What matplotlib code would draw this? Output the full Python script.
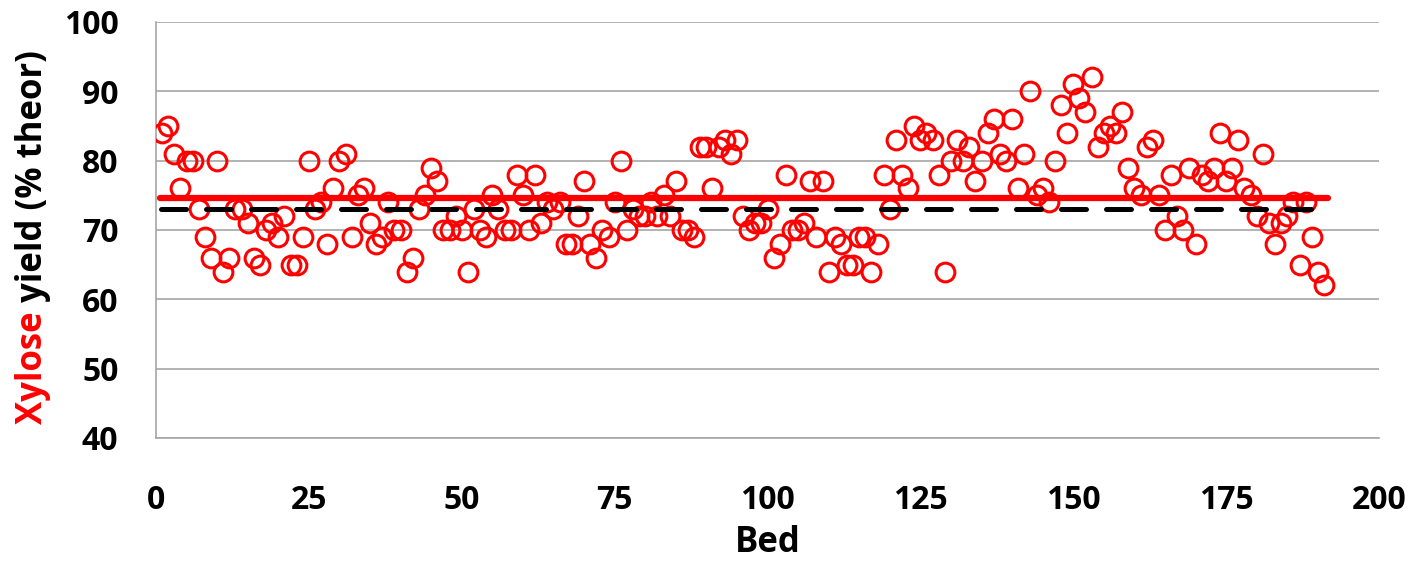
import numpy as np
import matplotlib.pyplot as plt

plt.rcParams['font.family'] = ['Open Sans', 'DejaVu Sans']
plt.rcParams['font.weight'] = 'bold'

# xylose yield per bed
beds = np.arange(1, 192)
yields = [
    84, 85, 81, 76, 80, 80, 73, 69, 66, 80, 64, 66, 73, 73, 71, 66, 65, 70, 71, 69,
    72, 65, 65, 69, 80, 73, 74, 68, 76, 80, 81, 69, 75, 76, 71, 68, 69, 74, 70, 70,
    64, 66, 73, 75, 79, 77, 70, 70, 72, 70, 64, 73, 70, 69, 75, 73, 70, 70, 78, 75,
    70, 78, 71, 74, 73, 74, 68, 68, 72, 77, 68, 66, 70, 69, 74, 80, 70, 73, 72, 72,
    74, 72, 75, 72, 77, 70, 70, 69, 82, 82, 76, 82, 83, 81, 83, 72, 70, 71, 71, 73,
    66, 68, 78, 70, 70, 71, 77, 69, 77, 64, 69, 68, 65, 65, 69, 69, 64, 68, 78, 73,
    83, 78, 76, 85, 83, 84, 83, 78, 64, 80, 83, 80, 82, 77, 80, 84, 86, 81, 80, 86,
    76, 81, 90, 75, 76, 74, 80, 88, 84, 91, 89, 87, 92, 82, 84, 85, 84, 87, 79, 76,
    75, 82, 83, 75, 70, 78, 72, 70, 79, 68, 78, 77, 79, 84, 77, 79, 83, 76, 75, 72,
    81, 71, 68, 71, 72, 74, 65, 74, 69, 64, 62,
]
mean_line = 74.6       # red solid line
target_line = 73.0     # black dashed line
line_x = [0.6, 191.7]
target_x = [0.8, 190.2]

fig = plt.figure(figsize=(14.16, 5.61), dpi=100)
ax = fig.add_axes([156 / 1416, 1 - 438 / 561, 1223 / 1416, 416 / 561])

ax.grid(axis='y', color='#a6a6a6', linewidth=1.2, zorder=0)
ax.plot(beds, yields, 'o', markerfacecolor='none', markeredgecolor='#ff0000',
        markersize=13.5, markeredgewidth=2.2, zorder=3)
ax.plot(line_x, [mean_line, mean_line], color='#ff0000', linewidth=4.5,
        solid_capstyle='round', zorder=4)
ax.plot(target_x, [target_line, target_line], color='black', linewidth=3.6,
        dashes=(5, 4), dash_capstyle='round', zorder=4)

ax.set_xlim(0, 200)
ax.set_ylim(40, 100)
ax.set_xticks(np.arange(0, 201, 25))
ax.set_yticks(np.arange(40, 101, 10))
ax.tick_params(axis='y', length=0, labelsize=23, pad=27)
ax.tick_params(axis='x', length=0, labelsize=23, pad=33)
for lab in ax.get_xticklabels() + ax.get_yticklabels():
    lab.set_fontweight('bold')
for s in ['top', 'right']:
    ax.spines[s].set_visible(False)
ax.spines['left'].set_color('#a6a6a6')
ax.spines['bottom'].set_color('#a6a6a6')
ax.spines['left'].set_linewidth(1.2)
ax.spines['bottom'].set_linewidth(1.2)

ax.set_xlabel('Bed', fontsize=25, fontweight='bold', labelpad=6)

# two-colour y label
yl_x = 33 / 1416
yl_y = 1 - 311 / 561
fig.text(yl_x, yl_y, 'Xylose', color='#ff0000', rotation=90,
         rotation_mode='anchor', ha='right', va='center', fontsize=25, fontweight='bold')
fig.text(yl_x, yl_y, ' yield (% theor)', color='black', rotation=90,
         rotation_mode='anchor', ha='left', va='center', fontsize=25, fontweight='bold')

fig.savefig('out.png', dpi=100)
